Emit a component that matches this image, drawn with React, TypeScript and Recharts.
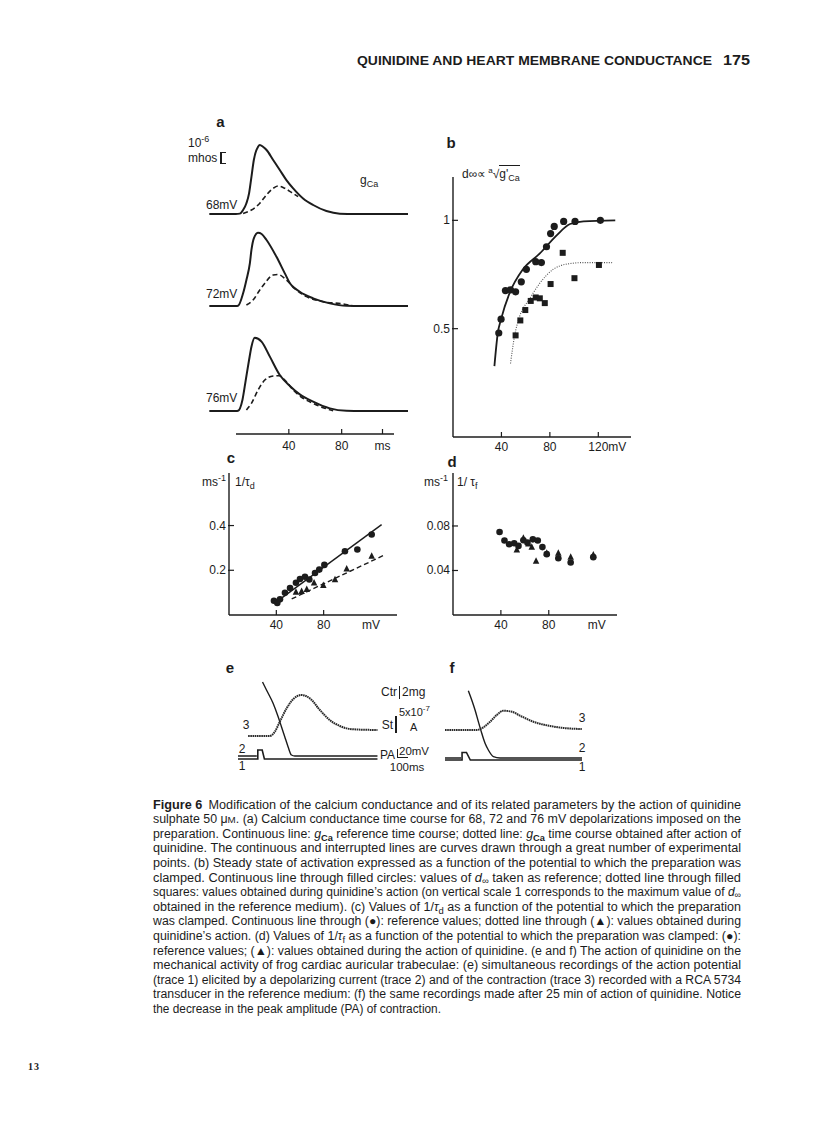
import React from "react";
import {
  ComposedChart,
  Line,
  LineChart,
  Scatter,
  XAxis,
  YAxis,
} from "recharts";

const INK = "#1c1c1c";
const SANS = "'Liberation Sans', Arial, Helvetica, sans-serif";

// panel a: gCa time courses (t in ms, g in 10^-6 mhos)
const g68Solid: [number, number][] = [
  [-20, 0], [0, 0], [3, 0.03], [5.5, 0.33], [8, 0.9], [10, 1.72], [11.8, 3.1],
  [13.6, 4.5], [16.8, 5.6], [18.1, 5.75], [20.5, 5.6], [23.2, 5.33], [28.2, 4.5],
  [33.2, 3.67], [38.2, 2.83], [43.3, 2.14], [50.8, 1.3], [58.4, 0.75], [68.4, 0.25],
  [78.5, 0.03], [90, 0], [130, 0],
];
const g68Dash: [number, number][] = [
  [5.5, 0.05], [11.8, 0.33], [18.1, 0.9], [23.2, 1.6], [28.2, 2.14], [32, 2.33],
  [37, 2.14], [42, 1.8], [47, 1.45],
];
const g72Solid: [number, number][] = [
  [-20, 0], [0, 0], [1.7, 0.02], [5.5, 1.06], [8, 2.17], [10.6, 3.56], [11.8, 4.67],
  [13.6, 5.64], [16.8, 6.1], [19.5, 6.0], [23.2, 5.5], [30.7, 4.1], [37, 2.72],
  [40.8, 1.9], [48.3, 1.19], [58.4, 0.64], [71, 0.22], [83.6, 0.02], [95, 0], [130, 0],
];
const g72Dash: [number, number][] = [
  [8, 0.08], [13, 0.5], [18.1, 1.33], [21.9, 1.9], [28.2, 2.58], [32, 2.62],
  [38.2, 2.17], [45.8, 1.33], [53.4, 0.78], [66, 0.36], [81, 0.17], [88, 0.02],
];
const g76Solid: [number, number][] = [
  [-20, 0], [0, 0], [1.7, 0.02], [5, 0.92], [7.5, 2.58], [10, 4.25], [11.8, 5.36],
  [14.3, 6.1], [19.4, 5.78], [25.7, 4.53], [33.2, 3.0], [40.8, 2.08], [48.3, 1.39],
  [58.4, 0.78], [71, 0.22], [83.6, 0.02], [95, 0], [130, 0],
];
const g76Dash: [number, number][] = [
  [8, 0.08], [11.8, 0.64], [16.8, 1.75], [21.9, 2.58], [28.2, 2.92], [32.7, 2.94],
  [37, 2.58], [43.3, 1.75], [50.8, 1.06], [58.4, 0.64], [66, 0.28], [73.5, 0.02],
];
const timeTicks = [0, 40, 80, 120];

// panel b: steady state activation d-infinity vs potential (mV)
const bCircleMv = [37.8, 39.7, 43.3, 47.5, 51.7, 56.4, 60.6, 68.3, 73, 77.2, 80.6, 83.6, 91.4, 100.8, 121.7];
const bCircleD = [0.48, 0.544, 0.676, 0.679, 0.67, 0.716, 0.774, 0.809, 0.805, 0.878, 0.939, 0.972, 0.995, 0.995, 1.0];
const bSquareMv = [51.7, 55.6, 59.7, 64.2, 68.3, 71.7, 75.8, 80.6, 90.6, 100.3, 120.5];
const bSquareD = [0.469, 0.538, 0.586, 0.628, 0.644, 0.64, 0.618, 0.706, 0.85, 0.733, 0.794];
const bRefMv = [34.2, 37, 39.7, 46.7, 57.8, 71.7, 85.6, 96.7, 107.8, 134];
const bRefD = [0.327, 0.48, 0.544, 0.664, 0.774, 0.847, 0.931, 0.983, 0.995, 1.0];
const bQuinMv = [47.5, 50.8, 55, 63.3, 71.7, 82.8, 93.9, 107.8, 131.4];
const bQuinD = [0.339, 0.465, 0.556, 0.638, 0.71, 0.774, 0.798, 0.805, 0.805];

// panel c: 1/tau_d (ms^-1)
const cCircleMv = [38, 40.8, 43.1, 47.3, 51.6, 56.6, 60, 64.2, 67.9, 72.7, 76.3, 80.6, 98, 108.5, 120.6];
const cCircleRate = [0.064, 0.054, 0.07, 0.099, 0.121, 0.144, 0.161, 0.171, 0.159, 0.188, 0.203, 0.224, 0.285, 0.293, 0.36];
const cTriMv = [56.6, 61.4, 65.7, 71.9, 79.7, 89.6, 99.5, 120.6];
const cTriRate = [0.102, 0.106, 0.114, 0.144, 0.132, 0.158, 0.206, 0.263];
const cRefLineMv = [38.9, 129];
const cRefLineRate = [0.054, 0.404];
const cQuinLineMv = [53, 130.4];
const cQuinLineRate = [0.072, 0.266];

// panel d: 1/tau_f (ms^-1)
const dCircleMv = [38.9, 43, 46.9, 51.1, 54.7, 58.8, 62.2, 66.7, 70.8, 74.7, 78.3, 88, 98.3, 117.2];
const dCircleRate = [0.0746, 0.0669, 0.0636, 0.0645, 0.0621, 0.0672, 0.065, 0.068, 0.067, 0.061, 0.0547, 0.051, 0.0472, 0.052];
const dTriMv = [53.3, 58.8, 63, 65.8, 69.4, 78.3, 88, 98.3, 117.2];
const dTriRate = [0.0585, 0.069, 0.064, 0.061, 0.0484, 0.0556, 0.0556, 0.052, 0.054];

// panels e and f: contraction (mg), action potential (mV), current (10^-7 A)
const ctrE: [number, number][] = [
  [-88, 0], [109, 0], [155, 0.78], [200, 2.6], [261, 5.0], [321, 6.67], [397, 7.45],
  [473, 6.85], [564, 4.73], [654, 2.9], [745, 1.82], [866, 1.22], [1090, 1.09],
];
const apE: [number, number | null][] = [
  [-180, 0], [-9, 0], [10, null], [43, 105.7], [79, 94.3], [139, 75.3], [185, 56.1],
  [215, 41.9], [245, 27.6], [275, 13.3], [306, 1.4], [336, 0], [1090, 0],
];
const stimE: [number, number][] = [[-180, 0], [0, 0], [0, 3.2], [40, 3.2], [60, 0], [1090, 0]];
const ctrF: [number, number][] = [
  [-155, 0], [134, 0], [194, 0.49], [255, 1.5], [315, 2.73], [375, 3.5], [452, 3.33],
  [527, 2.6], [648, 1.5], [800, 0.73], [952, 0.31], [1088, 0.18],
];
const apF: [number, number | null][] = [
  [-155, 0], [-9, 0], [20, null], [57, 96.1], [88, 82.9], [118, 68.6], [148, 51.9],
  [179, 35.3], [209, 21], [239, 11.4], [285, 1.9], [345, 0], [1090, 0],
];
const stimF: [number, number][] = [[-155, 0], [0, 0], [0, 2.7], [40, 2.7], [75, 0], [1090, 0]];

const pairs = (arr: [number, number | null][]) => arr.map(([t, v]) => ({ t, v }));
const zip = (xs: number[], ys: number[]) => xs.map((x, i) => ({ x, y: ys[i] }));

// marker shapes, sized like the printed symbols
const dotShape = (r: number) => (p: any) => <circle cx={p.cx} cy={p.cy} r={r} fill={INK} />;
const squareShape = (s: number) => (p: any) => (
  <rect x={p.cx - s / 2} y={p.cy - s / 2} width={s} height={s} fill={INK} />
);
const triShape = (s: number) => (p: any) => (
  <polygon
    points={`${p.cx},${p.cy - s * 0.6} ${p.cx - s / 2},${p.cy + s * 0.4} ${p.cx + s / 2},${p.cy + s * 0.4}`}
    fill={INK}
  />
);

type TickProps = {
  x?: number;
  y?: number;
  payload?: { value: number };
  labels?: Record<string, string>;
  bare?: number[];
  unitTick?: number;
  unit?: string;
  dy?: number;
};

function XTick({ x = 0, y = 0, payload, labels = {}, bare = [], unitTick, unit, dy = 14 }: TickProps) {
  const v = payload?.value ?? 0;
  const label = labels[String(v)] ?? String(v);
  return (
    <g>
      {!bare.includes(v) && (
        <line x1={x} x2={x} y1={y} y2={y - 5} stroke={INK} strokeWidth={1.2} />
      )}
      {v === unitTick ? (
        <text x={x - 10} y={y + dy} fontSize={12} fill={INK} fontFamily={SANS}>
          {label}
          <tspan>{unit}</tspan>
        </text>
      ) : (
        <text x={x} y={y + dy} textAnchor="middle" fontSize={12} fill={INK} fontFamily={SANS}>
          {label}
        </text>
      )}
    </g>
  );
}

function YTick({ x = 0, y = 0, payload }: TickProps) {
  const v = payload?.value ?? 0;
  return (
    <g>
      <line x1={x - 1} x2={x + 5} y1={y} y2={y} stroke={INK} strokeWidth={1.2} />
      <text x={x - 3} y={y + 4} textAnchor="end" fontSize={12} fill={INK} fontFamily={SANS}>
        {String(v)}
      </text>
    </g>
  );
}

type TxtProps = {
  x: number;
  y: number;
  children: React.ReactNode;
  anchor?: "start" | "middle" | "end";
  size?: number;
  bold?: boolean;
};

function Txt({ x, y, children, anchor = "start", size = 12, bold = false }: TxtProps) {
  const tx = anchor === "end" ? "-100%" : anchor === "middle" ? "-50%" : "0";
  return (
    <div
      style={{
        position: "absolute",
        left: x,
        top: y,
        transform: `translate(${tx}, -50%)`,
        fontSize: size,
        fontWeight: bold ? 700 : 400,
        fontFamily: SANS,
        color: INK,
        lineHeight: 1,
        whiteSpace: "nowrap",
      }}
    >
      {children}
    </div>
  );
}

const sup = (s: string, size = 8) => (
  <span style={{ fontSize: size, verticalAlign: "super", lineHeight: 0 }}>{s}</span>
);
const sub = (s: string, size = 8) => (
  <span style={{ fontSize: size, verticalAlign: "sub", lineHeight: 0 }}>{s}</span>
);

const axisStyle = { stroke: INK, strokeWidth: 1.4 };

function TraceChart({ top, solid, dashed }: { top: number; solid: [number, number][]; dashed: [number, number][] }) {
  return (
    <div style={{ position: "absolute", left: 208, top }}>
      <LineChart width={200} height={84} margin={{ top: 0, right: 0, bottom: 0, left: 0 }}>
        <XAxis type="number" dataKey="t" domain={[-21, 130]} hide allowDataOverflow />
        <YAxis type="number" domain={[-0.5, 6.5]} hide allowDataOverflow />
        <Line data={pairs(solid)} dataKey="v" type="monotone" dot={false} stroke={INK} strokeWidth={2} isAnimationActive={false} />
        <Line data={pairs(dashed)} dataKey="v" type="monotone" dot={false} stroke={INK} strokeWidth={1.6} strokeDasharray="5 3" isAnimationActive={false} />
      </LineChart>
    </div>
  );
}

function RecordChart(props: {
  left: number;
  width: number;
  domain: [number, number];
  ctr: [number, number][];
  ap: [number, number | null][];
  stim: [number, number][];
  ctrDomain: [number, number];
  apDomain: [number, number];
  stimDomain: [number, number];
}) {
  return (
    <div style={{ position: "absolute", left: props.left, top: 675 }}>
      <LineChart width={props.width} height={100} margin={{ top: 0, right: 0, bottom: 0, left: 0 }}>
        <XAxis type="number" dataKey="t" domain={props.domain} hide allowDataOverflow />
        <YAxis yAxisId="ctr" type="number" domain={props.ctrDomain} hide allowDataOverflow />
        <YAxis yAxisId="ap" type="number" domain={props.apDomain} hide allowDataOverflow />
        <YAxis yAxisId="st" type="number" domain={props.stimDomain} hide allowDataOverflow />
        <Line yAxisId="st" data={pairs(props.stim)} dataKey="v" type="linear" dot={false} stroke={INK} strokeWidth={1.6} isAnimationActive={false} />
        <Line yAxisId="ap" data={pairs(props.ap)} dataKey="v" type="monotone" dot={false} stroke={INK} strokeWidth={1.4} isAnimationActive={false} />
        <Line yAxisId="ctr" data={pairs(props.ctr)} dataKey="v" type="monotone" dot={false} stroke="#2a2a2a" strokeWidth={2} strokeDasharray="1.6 0.6" isAnimationActive={false} />
      </LineChart>
    </div>
  );
}

const gCa = (
  <>
    <tspan fontStyle="italic">g</tspan>
    <tspan dy={3} fontSize={9} fontWeight="bold">Ca</tspan>
  </>
);

const capX = 153;
const capW = 588;
const capY0 = 808.5;
const capStep = 14.6;

function CapLine({ i, children, len = capW }: { i: number; children: React.ReactNode; len?: number }) {
  return (
    <text
      x={capX}
      y={capY0 + i * capStep}
      textLength={len}
      lengthAdjust="spacingAndGlyphs"
      fontSize={12}
      fontFamily={SANS}
      fill={INK}
    >
      {children}
    </text>
  );
}

export default function App() {
  return (
    <div style={{ position: "absolute", left: 0, top: 0, width: 816, height: 1141, background: "#fff", overflow: "hidden" }}>
      <svg width={816} height={1141} style={{ position: "absolute", left: 0, top: 0 }}>
        <text x={357} y={64.5} textLength={355} lengthAdjust="spacingAndGlyphs" fontSize={12.5} fontWeight="bold" fontFamily={SANS} fill={INK}>
          QUINIDINE AND HEART MEMBRANE CONDUCTANCE
        </text>
        <text x={723} y={65} textLength={27} lengthAdjust="spacingAndGlyphs" fontSize={14} fontWeight="bold" fontFamily={SANS} fill={INK}>
          175
        </text>

        <CapLine i={0}>
          <tspan fontWeight="bold">Figure 6</tspan>
          <tspan dx={6}>{"Modification of the calcium conductance and of its related parameters by the action of quinidine"}</tspan>
        </CapLine>
        <CapLine i={1}>
          {"sulphate 50 \u03bc"}
          <tspan fontSize={9.5}>M</tspan>
          {". (a) Calcium conductance time course for 68, 72 and 76 mV depolarizations imposed on the"}
        </CapLine>
        <CapLine i={2}>
          {"preparation. Continuous line: "}
          {gCa}
          <tspan dy={-3}>{" reference time course; dotted line: "}</tspan>
          {gCa}
          <tspan dy={-3}>{" time course obtained after action of"}</tspan>
        </CapLine>
        <CapLine i={3}>
          {"quinidine. The continuous and interrupted lines are curves drawn through a great number of experimental"}
        </CapLine>
        <CapLine i={4}>
          {"points. (b) Steady state of activation expressed as a function of the potential to which the preparation was"}
        </CapLine>
        <CapLine i={5}>
          {"clamped. Continuous line through filled circles: values of "}
          <tspan fontStyle="italic">d</tspan>
          <tspan dy={2} fontSize={9}>{"\u221e"}</tspan>
          <tspan dy={-2}>{" taken as reference; dotted line through filled"}</tspan>
        </CapLine>
        <CapLine i={6}>
          {"squares: values obtained during quinidine\u2019s action (on vertical scale 1 corresponds to the maximum value of "}
          <tspan fontStyle="italic">d</tspan>
          <tspan dy={2} fontSize={9}>{"\u221e"}</tspan>
        </CapLine>
        <CapLine i={7}>
          {"obtained in the reference medium). (c) Values of 1/"}
          <tspan fontStyle="italic">{"\u03c4"}</tspan>
          <tspan dy={3} fontSize={9}>d</tspan>
          <tspan dy={-3}>{" as a function of the potential to which the preparation"}</tspan>
        </CapLine>
        <CapLine i={8}>
          {"was clamped. Continuous line through (\u25cf): reference values; dotted line through (\u25b2): values obtained during"}
        </CapLine>
        <CapLine i={9}>
          {"quinidine\u2019s action. (d) Values of 1/"}
          <tspan fontStyle="italic">{"\u03c4"}</tspan>
          <tspan dy={3} fontSize={9}>f</tspan>
          <tspan dy={-3}>{" as a function of the potential to which the preparation was clamped: (\u25cf):"}</tspan>
        </CapLine>
        <CapLine i={10}>
          {"reference values; (\u25b2): values obtained during the action of quinidine. (e and f) The action of quinidine on the"}
        </CapLine>
        <CapLine i={11}>
          {"mechanical activity of frog cardiac auricular trabeculae: (e) simultaneous recordings of the action potential"}
        </CapLine>
        <CapLine i={12}>
          {"(trace 1) elicited by a depolarizing current (trace 2) and of the contraction (trace 3) recorded with a RCA 5734"}
        </CapLine>
        <CapLine i={13}>
          {"transducer in the reference medium: (f) the same recordings made after 25 min of action of quinidine. Notice"}
        </CapLine>
        <CapLine i={14} len={288}>
          {"the decrease in the peak amplitude (PA) of contraction."}
        </CapLine>

        <text x={28} y={1070} textLength={11} fontSize={10} fontWeight="bold" fontFamily="'Liberation Serif', serif" fill={INK}>
          13
        </text>
      </svg>

      {/* panel a */}
      <Txt x={220.5} y={121} anchor="middle" size={15} bold>a</Txt>
      <Txt x={188} y={143}>10{sup("-6", 9)}</Txt>
      <Txt x={188} y={158}>mhos</Txt>
      <div style={{ position: "absolute", left: 220, top: 152, width: 4, height: 10, borderLeft: `2px solid ${INK}`, borderTop: `1.5px solid ${INK}`, borderBottom: `1.5px solid ${INK}` }} />
      <Txt x={360} y={180}>g{sub("Ca", 9)}</Txt>
      <Txt x={206} y={205}>68mV</Txt>
      <Txt x={206} y={294}>72mV</Txt>
      <Txt x={206} y={398}>76mV</Txt>
      <TraceChart top={136} solid={g68Solid} dashed={g68Dash} />
      <TraceChart top={228} solid={g72Solid} dashed={g72Dash} />
      <TraceChart top={333} solid={g76Solid} dashed={g76Dash} />
      <div style={{ position: "absolute", left: 235.5, top: 424 }}>
        <LineChart width={158.5} height={40} margin={{ top: 0, right: 0, bottom: 0, left: 0 }} data={timeTicks.map((t) => ({ t }))}>
          <XAxis
            type="number"
            dataKey="t"
            domain={[0, 120]}
            ticks={timeTicks}
            height={30}
            tickSize={0}
            tickMargin={0}
            tickLine={false}
            axisLine={axisStyle}
            tick={<XTick labels={{ "0": "", "40": "40", "80": "80", "120": "ms" }} dy={16} />}
          />
          <YAxis hide domain={[0, 1]} />
        </LineChart>
      </div>

      {/* panel b */}
      <Txt x={451} y={142} anchor="middle" size={15} bold>b</Txt>
      <div style={{ position: "absolute", left: 462, top: 168, fontSize: 12, fontFamily: SANS, color: INK, lineHeight: 1, whiteSpace: "nowrap" }}>
        <span>d{"\u221e\u221d"}</span>
        <span style={{ fontSize: 8, verticalAlign: "super", lineHeight: 0, marginLeft: 2 }}>a</span>
        <span>{"\u221a"}</span>
        <span style={{ borderTop: `1px solid ${INK}`, paddingTop: 1 }}>
          g'{sub("Ca", 9)}
        </span>
      </div>
      <div style={{ position: "absolute", left: 423, top: 177 }}>
        <ComposedChart width={208} height={285} margin={{ top: 0, right: 0, bottom: 0, left: 0 }}>
          <XAxis type="number" dataKey="x" domain={[0, 147]} ticks={[40, 80, 120]} height={25} tickSize={0} tickMargin={0} tickLine={false} axisLine={axisStyle} tick={<XTick unitTick={120} unit="mV" />} allowDataOverflow />
          <YAxis type="number" dataKey="y" domain={[0, 1.2]} ticks={[0.5, 1]} width={30} tickSize={0} tickMargin={0} tickLine={false} axisLine={axisStyle} tick={<YTick />} allowDataOverflow />
          <Line data={zip(bRefMv, bRefD)} dataKey="y" type="monotone" dot={false} stroke={INK} strokeWidth={1.8} isAnimationActive={false} />
          <Line data={zip(bQuinMv, bQuinD)} dataKey="y" type="monotone" dot={false} stroke="#555" strokeWidth={1.1} strokeDasharray="1 1.4" isAnimationActive={false} />
          <Scatter data={zip(bCircleMv, bCircleD)} shape={dotShape(3.6)} isAnimationActive={false} />
          <Scatter data={zip(bSquareMv, bSquareD)} shape={squareShape(6)} isAnimationActive={false} />
        </ComposedChart>
      </div>

      {/* panel c */}
      <Txt x={231} y={457} anchor="middle" size={15} bold>c</Txt>
      <Txt x={226} y={482} anchor="end">ms{sup("-1", 9)}</Txt>
      <Txt x={235} y={482}>1/{"\u03c4"}{sub("d", 9)}</Txt>
      <div style={{ position: "absolute", left: 199, top: 473 }}>
        <ComposedChart width={198} height={167} margin={{ top: 0, right: 0, bottom: 0, left: 0 }}>
          <XAxis type="number" dataKey="x" domain={[0, 142]} ticks={[40, 80, 120]} height={25} tickSize={0} tickMargin={0} tickLine={false} axisLine={axisStyle} tick={<XTick labels={{ "120": "mV" }} bare={[120]} />} allowDataOverflow />
          <YAxis type="number" dataKey="y" domain={[0, 0.635]} ticks={[0.2, 0.4]} width={30} tickSize={0} tickMargin={0} tickLine={false} axisLine={axisStyle} tick={<YTick />} allowDataOverflow />
          <Line data={zip(cRefLineMv, cRefLineRate)} dataKey="y" type="linear" dot={false} stroke={INK} strokeWidth={1.4} isAnimationActive={false} />
          <Line data={zip(cQuinLineMv, cQuinLineRate)} dataKey="y" type="linear" dot={false} stroke={INK} strokeWidth={1.4} strokeDasharray="5 3" isAnimationActive={false} />
          <Scatter data={zip(cCircleMv, cCircleRate)} shape={dotShape(3.3)} isAnimationActive={false} />
          <Scatter data={zip(cTriMv, cTriRate)} shape={triShape(6.5)} isAnimationActive={false} />
        </ComposedChart>
      </div>

      {/* panel d */}
      <Txt x={452} y={461} anchor="middle" size={15} bold>d</Txt>
      <Txt x={448} y={482} anchor="end">ms{sup("-1", 9)}</Txt>
      <Txt x={457} y={482}>1/ {"\u03c4"}{sub("f", 9)}</Txt>
      <div style={{ position: "absolute", left: 423, top: 473 }}>
        <ComposedChart width={194} height={167} margin={{ top: 0, right: 0, bottom: 0, left: 0 }}>
          <XAxis type="number" dataKey="x" domain={[0, 137]} ticks={[40, 80, 120]} height={25} tickSize={0} tickMargin={0} tickLine={false} axisLine={axisStyle} tick={<XTick labels={{ "120": "mV" }} bare={[120]} />} allowDataOverflow />
          <YAxis type="number" dataKey="y" domain={[0, 0.1276]} ticks={[0.04, 0.08]} width={30} tickSize={0} tickMargin={0} tickLine={false} axisLine={axisStyle} tick={<YTick />} allowDataOverflow />
          <Scatter data={zip(dCircleMv, dCircleRate)} shape={dotShape(3.3)} isAnimationActive={false} />
          <Scatter data={zip(dTriMv, dTriRate)} shape={triShape(6.5)} isAnimationActive={false} />
        </ComposedChart>
      </div>

      {/* panels e and f */}
      <Txt x={230} y={667} anchor="middle" size={15} bold>e</Txt>
      <Txt x={452} y={667} anchor="middle" size={15} bold>f</Txt>
      <Txt x={246} y={725} anchor="middle">3</Txt>
      <Txt x={242} y={749} anchor="middle">2</Txt>
      <Txt x={242} y={766} anchor="middle">1</Txt>
      <Txt x={582} y={718} anchor="middle">3</Txt>
      <Txt x={582} y={748} anchor="middle">2</Txt>
      <Txt x={582} y={767} anchor="middle">1</Txt>
      <RecordChart left={238.2} width={139.7} domain={[-180, 1090]} ctr={ctrE} ap={apE} stim={stimE} ctrDomain={[-7.09, 11.09]} apDomain={[-27.14, 115.71]} stimDomain={[-5.71, 30]} />
      <RecordChart left={445} width={137} domain={[-155, 1090]} ctr={ctrF} ap={apF} stim={stimF} ctrDomain={[-8.18, 10]} apDomain={[-24.29, 118.57]} stimDomain={[-5.36, 30.36]} />

      {/* calibration bars */}
      <Txt x={397} y={692} anchor="end">Ctr</Txt>
      <div style={{ position: "absolute", left: 398.5, top: 686, width: 1.8, height: 13, background: INK }} />
      <Txt x={402} y={692}>2mg</Txt>
      <Txt x={393} y={725} anchor="end">St</Txt>
      <div style={{ position: "absolute", left: 394.5, top: 716, width: 2.5, height: 17, background: INK }} />
      <Txt x={399} y={712} size={11}>5x10{sup("-7", 8)}</Txt>
      <Txt x={410} y={727} size={11}>A</Txt>
      <Txt x={395} y={755} anchor="end">PA</Txt>
      <div style={{ position: "absolute", left: 396.5, top: 749, width: 1.5, height: 9, background: INK }} />
      <div style={{ position: "absolute", left: 396.5, top: 756.5, width: 11, height: 1.5, background: INK }} />
      <Txt x={399} y={752} size={11.5}>20mV</Txt>
      <Txt x={407} y={768} anchor="middle" size={11.5}>100ms</Txt>
    </div>
  );
}
